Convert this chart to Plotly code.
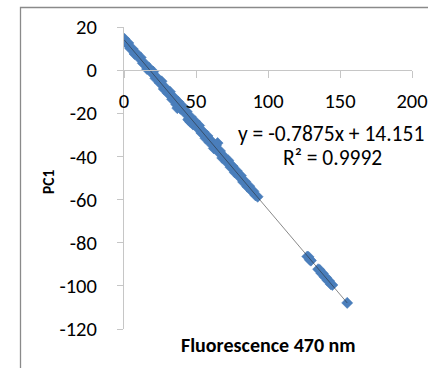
import plotly.graph_objects as go

# Fluorescence at 470 nm vs. first principal component score
fluor_main = [0.3, 1.6, 3.0, 4.4, 5.9, 7.3, 8.8, 10.2, 11.6, 13.1, 14.5, 16.0, 17.4, 18.9,
              20.3, 21.8, 23.2, 24.7, 26.1, 27.6, 29.0, 30.5, 31.9, 33.4, 34.8, 36.3, 37.0,
              37.7, 39.2, 40.6, 42.1, 43.5, 44.6, 45.0, 46.0, 46.4, 47.9, 49.3, 50.8, 52.2,
              53.7, 55.1, 56.6, 58.0, 59.5, 60.9, 62.4, 63.8, 65.0, 65.3, 66.7, 68.2, 69.6,
              71.1, 72.5, 74.0, 75.4, 76.9, 78.3, 79.8, 81.2, 82.7, 84.1, 85.6, 87.0, 88.5,
              89.9, 91.4, 92.8]
pc1_main = [14.5, 12.4, 12.6, 10.0, 9.9, 7.5, 7.7, 5.8, 5.9, 3.2, 3.0, 0.5, 1.1, -1.1,
            -0.7, -3.8, -3.6, -5.9, -5.2, -8.7, -8.3, -10.8, -10.0, -13.5, -12.7, -15.9, -17.6,
            -14.7, -17.9, -16.7, -19.7, -19.2, -23.0, -22.7, -24.0, -21.7, -25.2, -23.7, -26.7, -25.7,
            -29.1, -28.6, -31.6, -30.5, -33.6, -33.0, -36.3, -34.9, -33.8, -37.8, -37.5, -40.7, -40.1,
            -42.6, -41.9, -45.0, -44.5, -47.4, -46.7, -49.3, -48.9, -51.8, -51.6, -54.0, -53.8, -56.0,
            -56.2, -58.1, -58.7]
fluor_high = [127.3, 128.2, 129.0, 129.8, 134.8, 135.9, 137.0, 138.1, 139.2, 140.3, 141.4,
              142.5, 143.6, 144.7, 155.0]
pc1_high = [-86.4, -86.6, -87.9, -88.3, -92.3, -92.6, -94.1, -94.3, -95.8, -96.1, -97.5,
            -97.8, -99.2, -99.6, -107.9]

fluor = fluor_main + fluor_high
pc1 = pc1_main + pc1_high

# Linear trendline coefficients
slope = -0.7875
intercept = 14.151
r_squared = 0.9992

x_ticks = [0, 50, 100, 150, 200]
y_ticks = [20, 0, -20, -40, -60, -80, -100, -120]

FONT = "Calibri, Carlito, Lato, sans-serif"
AXIS_GREY = "#c6c6c6"

x_min, x_max = min(fluor), max(fluor)
trend_x = [x_min, x_max]
trend_y = [slope * v + intercept for v in trend_x]

fig = go.Figure()
fig.add_trace(go.Scatter(
    x=fluor, y=pc1, mode="markers",
    marker=dict(symbol="diamond", size=8.5, color="#4a7ebb",
                line=dict(width=0.6, color="#4a7ebb")),
    showlegend=False, hoverinfo="x+y",
))
fig.add_trace(go.Scatter(
    x=trend_x, y=trend_y, mode="lines",
    line=dict(color="rgba(40,40,40,0.55)", width=1),
    showlegend=False, hoverinfo="skip",
))

W, H = 428, 368
ml, mr, mt, mb = 124, 16, 27, 39
pw, ph = W - ml - mr, H - mt - mb


def px_to_paper(px, py):
    return (px - ml) / pw, (H - mb - py) / ph


eq = f"y = {slope}x + {intercept}"
r2 = f"R² = {r_squared}"
ex, ey = px_to_paper(331, 134)
rx, ry = px_to_paper(332, 158)
tx, ty = px_to_paper(268, 345)
yx, yy = px_to_paper(48, 182)

annotations = [
    dict(text=eq, x=ex, y=ey, xref="paper", yref="paper", showarrow=False,
         xanchor="center", yanchor="middle", font=dict(size=21.5, color="#000000", family=FONT)),
    dict(text=r2, x=rx, y=ry, xref="paper", yref="paper", showarrow=False,
         xanchor="center", yanchor="middle", font=dict(size=21.5, color="#000000", family=FONT)),
    dict(text="<b>Fluorescence 470 nm</b>", x=tx, y=ty, xref="paper", yref="paper",
         showarrow=False, xanchor="center", yanchor="middle",
         font=dict(size=20, color="#000000", family=FONT)),
    dict(text="<b>PC1</b>", x=yx, y=yy, xref="paper", yref="paper", textangle=-90,
         showarrow=False, xanchor="center", yanchor="middle",
         font=dict(size=15.5, color="#000000", family=FONT)),
]

# Chart-area border (left and top edges fall inside the view)
bx0, by0 = px_to_paper(20.5, 7.5)
bx1, by1 = px_to_paper(W + 5, H + 5)
shapes = [
    dict(type="path", xref="paper", yref="paper",
         path=f"M {bx0} {by1} L {bx0} {by0} L {bx1} {by0}",
         line=dict(color="#8a8a8a", width=1.3)),
]

zero_pos = (0 - y_ticks[-1]) / (y_ticks[0] - y_ticks[-1])

fig.update_layout(
    width=W, height=H,
    margin=dict(l=ml, r=mr, t=mt, b=mb, pad=0, autoexpand=False),
    paper_bgcolor="white", plot_bgcolor="white",
    font=dict(family=FONT, size=20, color="#000000"),
    xaxis=dict(range=[0, 200], tickvals=x_ticks, ticktext=[str(v) for v in x_ticks],
               showgrid=False, zeroline=False, automargin=False,
               showline=True, linecolor=AXIS_GREY, linewidth=1,
               ticks="outside", ticklen=7, tickcolor=AXIS_GREY, tickwidth=1,
               anchor="free", position=zero_pos, ticklabelstandoff=5,
               tickfont=dict(size=20.5, family=FONT)),
    yaxis=dict(range=[-120, 20], tickvals=y_ticks, ticktext=[str(v) for v in y_ticks],
               showgrid=False, zeroline=False, automargin=False,
               showline=True, linecolor=AXIS_GREY, linewidth=1,
               ticks="outside", ticklen=6, tickcolor=AXIS_GREY, tickwidth=1,
               ticklabelstandoff=16, tickfont=dict(size=20.5, family=FONT)),
    annotations=annotations, shapes=shapes,
)

fig.write_html("out.html")
